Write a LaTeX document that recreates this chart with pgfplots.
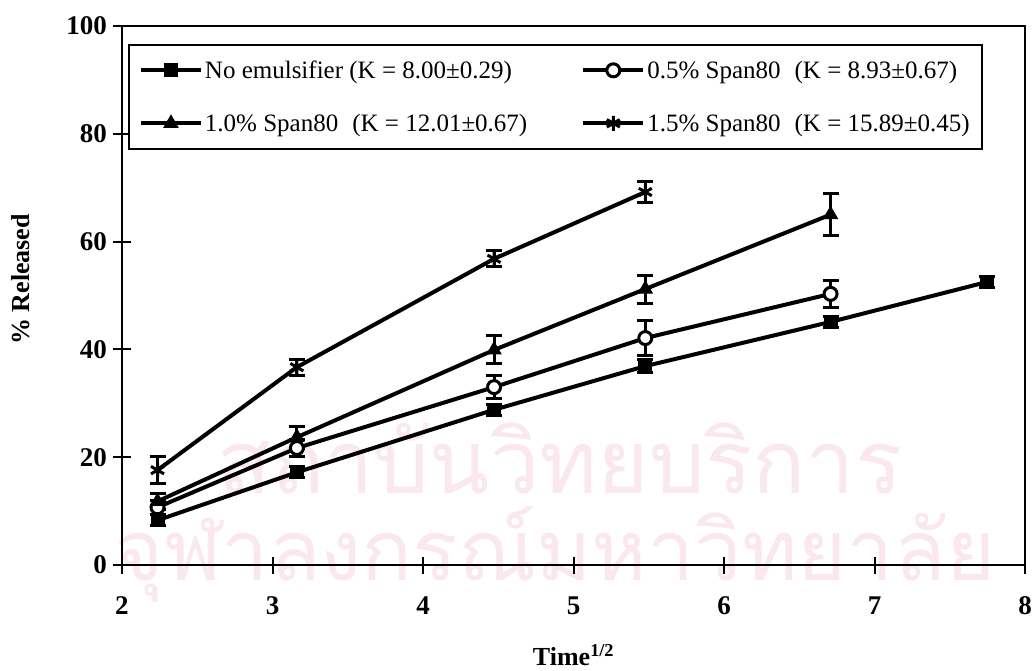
\documentclass[border=0pt]{standalone}
\usepackage{fontspec}
\setmainfont{Liberation Serif}
\newfontfamily\thaifont[Script=Thai]{Loma}
\usepackage{graphicx}
\usepackage{pgfplots}
\pgfplotsset{compat=1.18}
\usepackage{pgfplotstable}

\definecolor{wmark}{RGB}{250,232,236}

% x = sqrt(time), y = % released, e = standard deviation
\pgfplotstableread{
x     y     e
2.236 8.3   1.0
3.162 17.2  1.0
4.472 28.8  1.0
5.477 36.9  1.2
6.708 45.1  1.0
7.746 52.5  1.0
}\noemul
\pgfplotstableread{
x     y     e
2.236 10.7  1.3
3.162 21.7  1.5
4.472 33.0  2.2
5.477 42.1  3.2
6.708 50.3  2.5
}\spanA
\pgfplotstableread{
x     y     e
2.236 11.8  1.5
3.162 23.7  2.0
4.472 39.9  2.6
5.477 51.2  2.6
6.708 65.0  3.9
}\spanB
\pgfplotstableread{
x     y     e
2.236 17.6  2.5
3.162 36.7  1.5
4.472 56.8  1.5
5.477 69.2  2.0
}\spanC

\newcommand{\gap}{\hspace{14pt}}

\begin{document}
\begin{tikzpicture}
% institutional watermark behind the plot
\node[text=wmark, inner sep=0pt] at (438pt,107pt) {\resizebox{685pt}{!}{\thaifont สถาบันวิทยบริการ}};
\node[text=wmark, inner sep=0pt] at (433pt,10pt) {\resizebox{880pt}{!}{\thaifont จุฬาลงกรณ์มหาวิทยาลัย}};
\begin{axis}[
  scale only axis, width=903pt, height=539pt,
  xmin=2, xmax=8, ymin=0, ymax=100,
  xtick={2,3,...,8}, ytick={0,20,...,100},
  xtick pos=left, ytick pos=left,
  tick align=center, major tick length=17pt,
  every tick/.style={black, line width=2pt},
  axis line style={line width=2pt},
  /pgf/number format/assume math mode=true,
  ticklabel style={font=\bfseries\fontsize{27}{30}\selectfont},
  xticklabel style={yshift=-20pt},
  yticklabel style={xshift=-3pt},
  xlabel={Time\textsuperscript{1/2}},
  ylabel={\% Released},
  label style={font=\bfseries\fontsize{26}{30}\selectfont},
  xlabel style={at={(axis description cs:0.5,-0.167)}, anchor=center},
  ylabel style={at={(axis description cs:-0.112,0.53)}, anchor=center},
  legend columns=2, legend cell align=left,
  legend style={at={(axis description cs:0.0066,0.967)}, anchor=north west,
    draw=black, line width=2pt, inner xsep=10pt, inner ysep=14pt, row sep=30pt,
    font=\fontsize{25}{28}\selectfont,
    /tikz/every even column/.append style={column sep=52pt}},
  legend image code/.code={\draw[mark repeat=2,mark phase=2] plot coordinates {(0pt,0pt) (30pt,0pt) (60pt,0pt)};},
  error bars/y dir=both, error bars/y explicit,
  error bars/error mark options={rotate=90, black, mark size=8pt, line width=3pt},
  error bars/error bar style={line width=3pt, black},
]
\addplot[black, line width=4pt, mark=square*, mark size=6.5pt, mark options={solid, line width=1pt}]
  table[x=x, y=y, y error=e]{\noemul};
\addlegendentry{No emulsifier (K = 8.00±0.29)}
\addplot[black, line width=4pt, mark=*, mark size=6.5pt, mark options={solid, fill=white, line width=3pt}]
  table[x=x, y=y, y error=e]{\spanA};
\addlegendentry{0.5\% Span80\gap(K = 8.93±0.67)\hspace{16pt}}
\addplot[black, line width=4pt, mark=triangle*, mark size=8pt, mark options={solid, line width=1pt}]
  table[x=x, y=y, y error=e]{\spanB};
\addlegendentry{1.0\% Span80\gap(K = 12.01±0.67)}
\addplot[black, line width=4pt, mark=asterisk, mark size=7.5pt, mark options={solid, line width=3pt}]
  table[x=x, y=y, y error=e]{\spanC};
\addlegendentry{1.5\% Span80\gap(K = 15.89±0.45)\hspace{16pt}}
\end{axis}
\pgfresetboundingbox
\useasboundingbox (-122pt,-106pt) rectangle ++(1032pt,671pt);
\end{tikzpicture}
\end{document}
